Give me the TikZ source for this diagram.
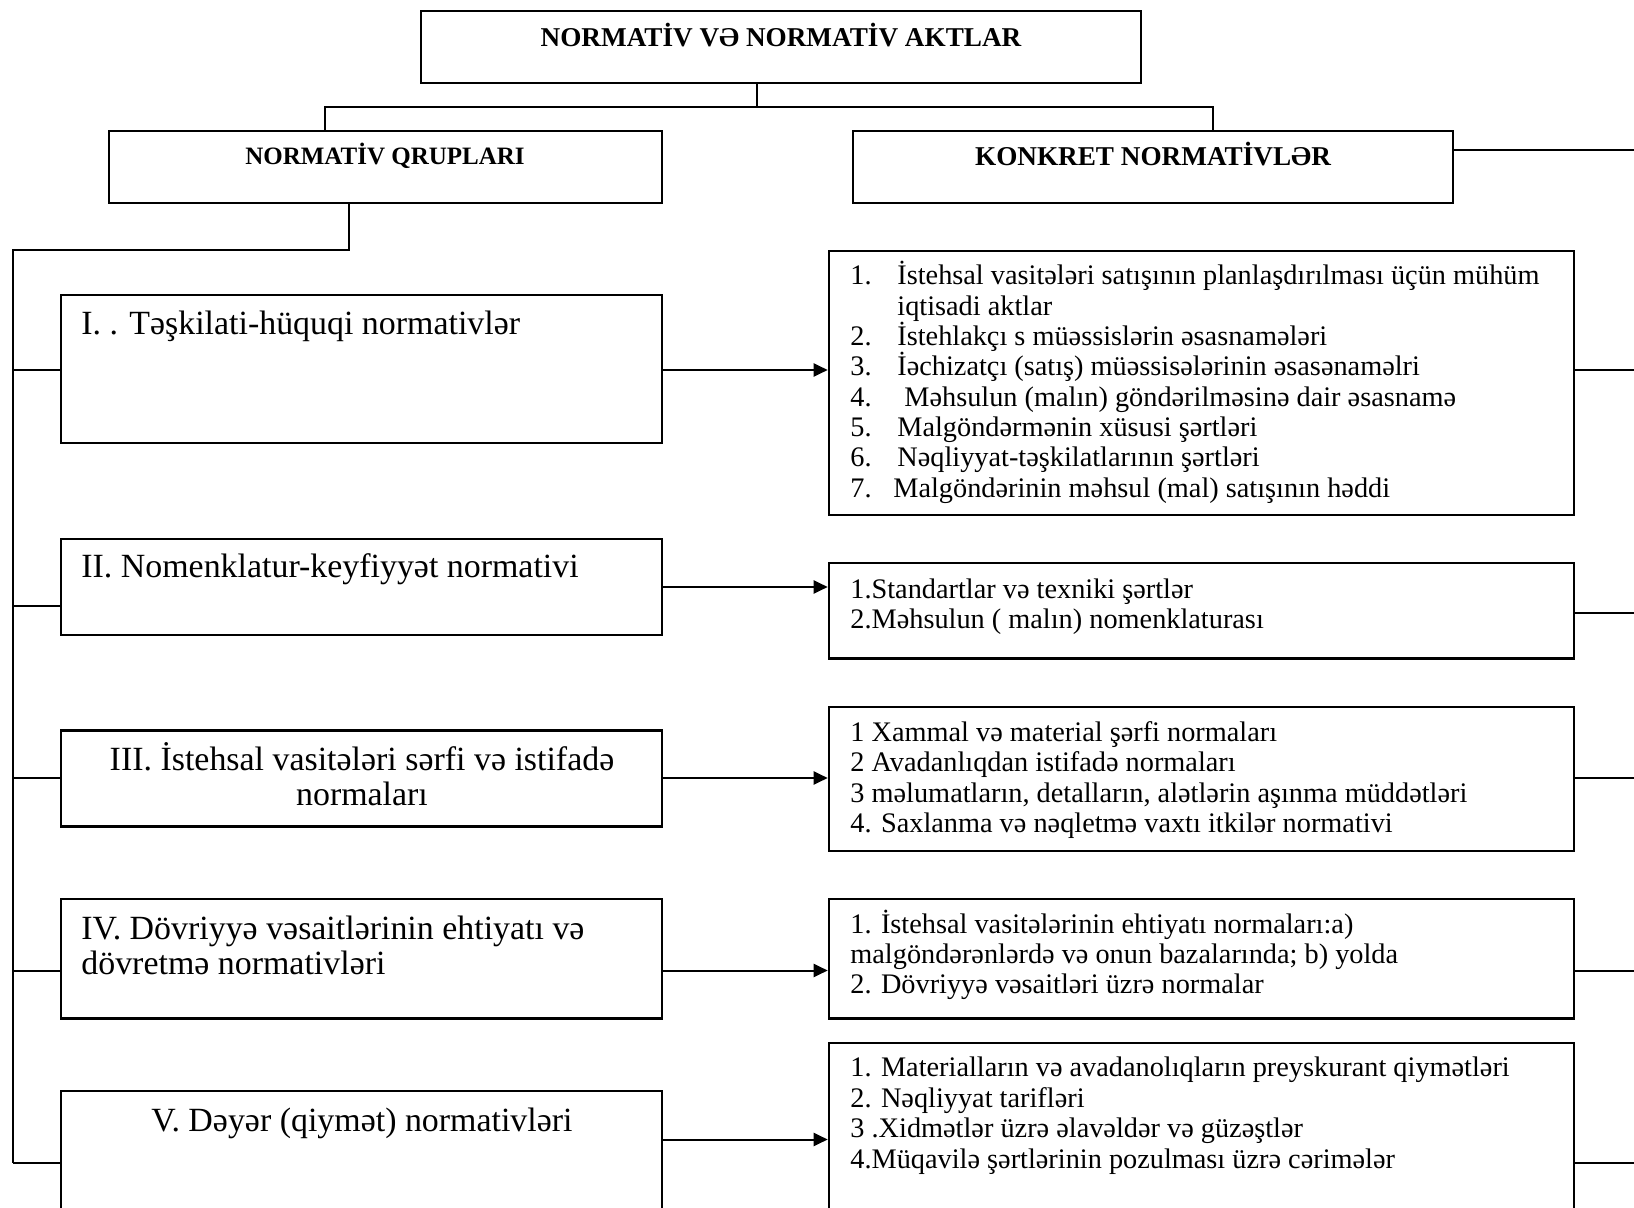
\documentclass[tikz,border=0pt]{standalone}
\usepackage{fontspec}
\setmainfont{Liberation Serif}
\usetikzlibrary{arrows.meta,fit}
\begin{document}
\begin{tikzpicture}[x=0.5pt,y=-0.5pt,
 box/.style={draw, line width=1.3pt, inner sep=0pt},
 conn/.style={line width=1pt},
 arr/.style={conn, -{Triangle[length=7pt,width=6.5pt]}},
 hdr/.style={font=\fontsize{13.6}{15}\selectfont\bfseries, inner sep=0pt, anchor=base},
 grp/.style={font=\fontsize{16.95}{16.5}\selectfont, inner sep=0pt, anchor=base west},
 grpc/.style={font=\fontsize{16.95}{16.5}\selectfont, inner sep=0pt, anchor=base},
 itm/.style={font=\fontsize{14.15}{15}\selectfont, inner sep=0pt, anchor=base west},
]
\useasboundingbox (0,0) rectangle (1634,1208);
\clip (0,0) rectangle (1634,1208);

% header boxes
\node[box, fit={(421,11) (1141,83)}] (top) {};
\node[hdr] (toptxt) at (781,47) {NORMATİV VƏ NORMATİV AKTLAR};
\node[box, fit={(109,131) (662,203)}] (hl) {};
\node[hdr, font=\fontsize{12.5}{15}\selectfont\bfseries] (hltxt) at (385,165) {NORMATİV QRUPLARI};
\node[box, fit={(853,131) (1453,203)}] (hr) {};
\node[hdr] (hrtxt) at (1153,166) {KONKRET NORMATİVLƏR};

% group boxes (left)
\node[box, fit={(61,295) (662,443)}] (g1) {};
\node[grp] (g1t) at (81,335) {I. . Təşkilati-hüquqi normativlər};
\node[box, fit={(61,539) (662,635)}] (g2) {};
\node[grp] (g2t) at (81,578) {II. Nomenklatur-keyfiyyət normativi};
\node[box, fit={(61,730.5) (662,826.5)}] (g3) {};
\node[grpc] (g3a) at (362,770.5) {III. İstehsal vasitələri sərfi və istifadə};
\node[grpc] (g3b) at (362,805.5) {normaları};
\node[box, fit={(61,899) (662,1018.5)}] (g4) {};
\node[grp] (g4a) at (81,939) {IV. Dövriyyə vəsaitlərinin ehtiyatı və};
\node[grp] (g4b) at (81,974.5) {dövretmə normativləri};
\node[box, fit={(61,1091) (662,1260)}] (g5) {};
\node[grpc] (g5t) at (362,1131) {V. Dəyər (qiymət) normativləri};

% concrete boxes (right)
\node[box, fit={(829,251) (1574,515)}] (k1) {};
\foreach \t [count=\i from 0] in {
 {\makebox[23.5pt][l]{1.}İstehsal vasitələri satışının planlaşdırılması üçün mühüm},
 {\hspace*{23.5pt}iqtisadi aktlar},
 {\makebox[23.5pt][l]{2.}İstehlakçı s müəssislərin əsasnamələri},
 {\makebox[23.5pt][l]{3.}İəchizatçı (satış) müəssisələrinin əsasənaməlri},
 {\makebox[23.5pt][l]{4.}\hspace*{3.5pt}Məhsulun (malın) göndərilməsinə dair əsasnamə},
 {\makebox[23.5pt][l]{5.}Malgöndərmənin xüsusi şərtləri},
 {\makebox[23.5pt][l]{6.}Nəqliyyat-təşkilatlarının şərtləri},
 {\makebox[21.5pt][l]{7.}Malgöndərinin məhsul (mal) satışının həddi}}
 \node[itm] (k1-\i) at (850,{285+30.3*\i}) {\t};

\node[box, fit={(829,563) (1574,658.5)}] (k2) {};
\foreach \t [count=\i from 0] in {
 {1.Standartlar və texniki şərtlər},
 {2.Məhsulun ( malın) nomenklaturası}}
 \node[itm] (k2-\i) at (850,{598+30*\i}) {\t};

\node[box, fit={(829,707) (1574,851)}] (k3) {};
\foreach \t [count=\i from 0] in {
 {1 Xammal və material şərfi normaları},
 {2 Avadanlıqdan istifadə normaları},
 {3 məlumatların, detalların, alətlərin aşınma müddətləri},
 {4. Saxlanma və nəqletmə vaxtı itkilər normativi}}
 \node[itm] (k3-\i) at (850,{741.5+30.3*\i}) {\t};

\node[box, fit={(829,899) (1574,1018.5)}] (k4) {};
\foreach \t [count=\i from 0] in {
 {1. İstehsal vasitələrinin ehtiyatı normaları:a)},
 {malgöndərənlərdə və onun bazalarında; b) yolda},
 {2. Dövriyyə vəsaitləri üzrə normalar}}
 \node[itm] (k4-\i) at (850,{933.5+29.8*\i}) {\t};

\node[box, fit={(829,1043) (1574,1260)}] (k5) {};
\foreach \t [count=\i from 0] in {
 {1. Materialların və avadanolıqların preyskurant qiymətləri},
 {2. Nəqliyyat tarifləri},
 {3 .Xidmətlər üzrə əlavəldər və güzəştlər},
 {4.Müqavilə şərtlərinin pozulması üzrə cərimələr}}
 \node[itm] (k5-\i) at (850,{1076.5+30.6*\i}) {\t};

% connectors at top
\coordinate (j0) at (757,107);
\coordinate (jl) at (325,107);
\coordinate (jr) at (1213,107);
\draw[conn] (top.south -| j0) -- (j0);
\draw[conn] (hl.north -| jl) -- (jl) -- (jr) -- (hr.north -| jr);
\coordinate (eh) at (1650,150);
\draw[conn] (hr.east |- eh) -- (eh);

% trunk
\coordinate (t0) at (349,250);
\coordinate (t1) at (13,250);
\coordinate (t2) at (13,1162.5);
\draw[conn] (hl.south -| t0) -- (t0) -- (t1) -- (t2);

% branches to groups
\draw[conn] (13,370) -- (g1.west |- 0,370);
\draw[conn] (13,606) -- (g2.west |- 0,606);
\draw[conn] (13,778) -- (g3.west |- 0,778);
\draw[conn] (13,970.5) -- (g4.west |- 0,970.5);
\draw[conn] (t2) -- (g5.west |- t2);

% arrows group -> concrete
\draw[arr] (g1.east |- 0,370) -- (k1.west |- 0,370);
\draw[arr] (g2.east |- 0,587) -- (k2.west |- 0,587);
\draw[arr] (g3.east |- 0,778) -- (k3.west |- 0,778);
\draw[arr] (g4.east |- 0,970.5) -- (k4.west |- 0,970.5);
\draw[arr] (g5.east |- 0,1139.5) -- (k5.west |- 0,1139.5);

% lines leaving concrete boxes to the right
\draw[conn] (k1.east |- 0,370) -- (1650,370);
\draw[conn] (k2.east |- 0,612.5) -- (1650,612.5);
\draw[conn] (k3.east |- 0,778) -- (1650,778);
\draw[conn] (k4.east |- 0,970.5) -- (1650,970.5);
\draw[conn] (k5.east |- 0,1162.5) -- (1650,1162.5);
\end{tikzpicture}
\end{document}
